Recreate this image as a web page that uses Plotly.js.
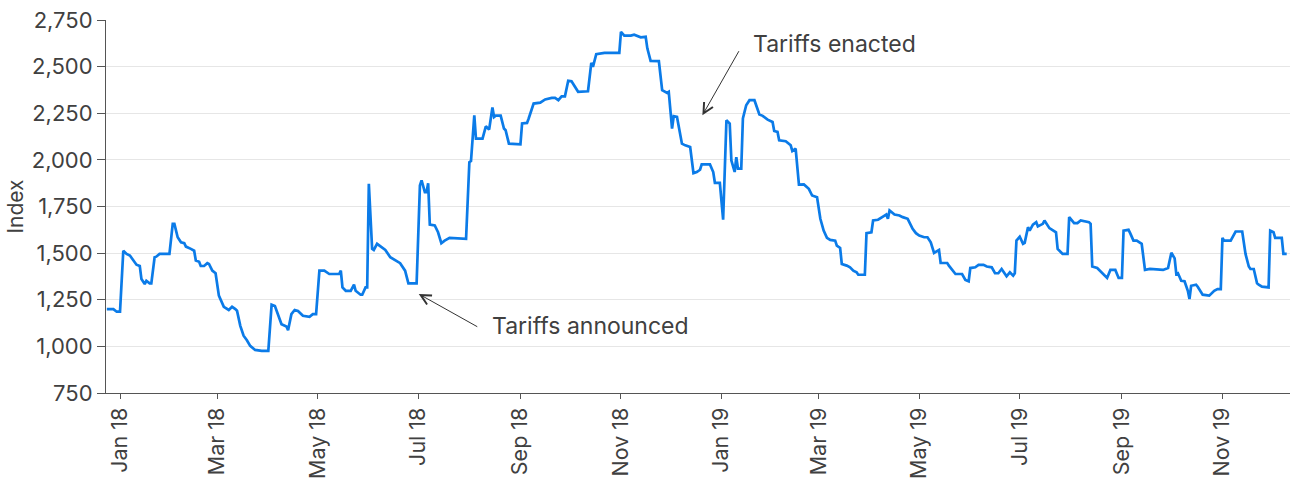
<!DOCTYPE html>
<html>
<head>
<meta charset="utf-8">
<script src="https://cdn.plot.ly/plotly-3.0.1.min.js"></script>
<style>
html,body{margin:0;padding:0;background:#fff;}
#chart{width:1294px;height:481px;}
</style>
</head>
<body>
<div id="chart"></div>
<script>
const dates = [
"2017-12-24","2017-12-28","2017-12-30","2018-01-01","2018-01-03","2018-01-05","2018-01-07","2018-01-09","2018-01-11","2018-01-13",
"2018-01-14","2018-01-16","2018-01-17","2018-01-19","2018-01-20","2018-01-22","2018-01-23","2018-01-25","2018-01-31","2018-02-02",
"2018-02-03","2018-02-05","2018-02-07","2018-02-09","2018-02-10","2018-02-13","2018-02-15","2018-02-16","2018-02-18","2018-02-19",
"2018-02-21","2018-02-23","2018-02-24","2018-02-26","2018-02-28","2018-03-02","2018-03-03","2018-03-05","2018-03-08","2018-03-10",
"2018-03-12","2018-03-13","2018-03-15","2018-03-17","2018-03-19","2018-03-21","2018-03-24","2018-03-28","2018-04-01","2018-04-03",
"2018-04-05","2018-04-07","2018-04-09","2018-04-12","2018-04-13","2018-04-15","2018-04-17","2018-04-19","2018-04-22","2018-04-26",
"2018-04-28","2018-04-30","2018-05-02","2018-05-05","2018-05-08","2018-05-14","2018-05-15","2018-05-16","2018-05-18","2018-05-21",
"2018-05-23","2018-05-24","2018-05-27","2018-05-28","2018-05-30","2018-05-31","2018-06-01","2018-06-03","2018-06-04","2018-06-06",
"2018-06-09","2018-06-11","2018-06-14","2018-06-17","2018-06-20","2018-06-23","2018-06-25","2018-06-30","2018-07-02","2018-07-03",
"2018-07-05","2018-07-06","2018-07-07","2018-07-08","2018-07-11","2018-07-13","2018-07-15","2018-07-17","2018-07-20","2018-07-30",
"2018-08-01","2018-08-02","2018-08-04","2018-08-05","2018-08-09","2018-08-11","2018-08-13","2018-08-15","2018-08-16","2018-08-17",
"2018-08-20","2018-08-22","2018-08-23","2018-08-25","2018-09-01","2018-09-02","2018-09-05","2018-09-06","2018-09-09","2018-09-13",
"2018-09-16","2018-09-20","2018-09-22","2018-09-24","2018-09-26","2018-09-28","2018-09-30","2018-10-02","2018-10-04","2018-10-06",
"2018-10-12","2018-10-14","2018-10-15","2018-10-17","2018-10-22","2018-10-31","2018-11-01","2018-11-03","2018-11-07","2018-11-09",
"2018-11-13","2018-11-16","2018-11-17","2018-11-19","2018-11-24","2018-11-25","2018-11-26","2018-11-29","2018-11-30","2018-12-02",
"2018-12-03","2018-12-05","2018-12-06","2018-12-08","2018-12-10","2018-12-13","2018-12-15","2018-12-17","2018-12-19","2018-12-20",
"2018-12-25","2018-12-27","2018-12-28","2018-12-31","2019-01-02","2019-01-03","2019-01-04","2019-01-06","2019-01-07","2019-01-09",
"2019-01-10","2019-01-11","2019-01-13","2019-01-14","2019-01-16","2019-01-18","2019-01-21","2019-01-24","2019-01-26","2019-01-29",
"2019-02-01","2019-02-02","2019-02-04","2019-02-05","2019-02-09","2019-02-12","2019-02-13","2019-02-15","2019-02-17","2019-02-20",
"2019-02-23","2019-02-25","2019-02-28","2019-03-02","2019-03-04","2019-03-06","2019-03-08","2019-03-11","2019-03-12","2019-03-14",
"2019-03-15","2019-03-18","2019-03-20","2019-03-22","2019-03-24","2019-03-25","2019-03-29","2019-03-30","2019-04-02","2019-04-03",
"2019-04-06","2019-04-09","2019-04-11","2019-04-12","2019-04-13","2019-04-16","2019-04-19","2019-04-21","2019-04-24","2019-04-27",
"2019-04-29","2019-05-01","2019-05-04","2019-05-06","2019-05-08","2019-05-10","2019-05-13","2019-05-14","2019-05-18","2019-05-19",
"2019-05-22","2019-05-23","2019-05-27","2019-05-29","2019-05-31","2019-06-01","2019-06-04","2019-06-06","2019-06-09","2019-06-11",
"2019-06-14","2019-06-16","2019-06-18","2019-06-20","2019-06-23","2019-06-25","2019-06-27","2019-06-28","2019-06-29","2019-07-01",
"2019-07-03","2019-07-04","2019-07-06","2019-07-07","2019-07-09","2019-07-11","2019-07-12","2019-07-15","2019-07-16","2019-07-18",
"2019-07-19","2019-07-23","2019-07-24","2019-07-26","2019-07-27","2019-07-30","2019-07-31","2019-08-03","2019-08-05","2019-08-07",
"2019-08-12","2019-08-13","2019-08-14","2019-08-17","2019-08-19","2019-08-21","2019-08-23","2019-08-25","2019-08-28","2019-08-30",
"2019-09-01","2019-09-02","2019-09-05","2019-09-06","2019-09-08","2019-09-10","2019-09-12","2019-09-13","2019-09-15","2019-09-18",
"2019-09-26","2019-09-29","2019-10-01","2019-10-03","2019-10-04","2019-10-05","2019-10-07","2019-10-09","2019-10-11","2019-10-12",
"2019-10-13","2019-10-16","2019-10-17","2019-10-20","2019-10-24","2019-10-27","2019-10-29","2019-10-31","2019-11-01","2019-11-02",
"2019-11-06","2019-11-07","2019-11-09","2019-11-13","2019-11-15","2019-11-17","2019-11-18","2019-11-20","2019-11-22","2019-11-23",
"2019-11-25","2019-11-29","2019-11-30","2019-12-02","2019-12-03","2019-12-07","2019-12-08","2019-12-10"
];
const indexValues = [
1200,1200,1186,1186,1513,1496,1487,1460,1438,1431,
1361,1334,1352,1338,1338,1478,1481,1496,1496,1657,
1657,1585,1558,1553,1535,1523,1513,1460,1454,1431,
1431,1446,1442,1406,1392,1272,1254,1212,1195,1212,
1200,1191,1110,1057,1033,1003,981,976,976,1223,
1216,1164,1119,1107,1087,1173,1195,1190,1164,1159,
1173,1173,1406,1406,1388,1388,1406,1316,1298,1298,
1331,1298,1277,1277,1316,1316,1872,1523,1517,1550,
1528,1517,1478,1460,1446,1406,1338,1338,1863,1890,
1827,1827,1875,1653,1648,1612,1553,1567,1582,1577,
1988,1994,2239,2114,2114,2180,2162,2281,2230,2237,
2237,2168,2159,2087,2083,2195,2198,2222,2302,2307,
2324,2332,2332,2320,2341,2341,2424,2422,2395,2365,
2368,2520,2499,2567,2574,2574,2687,2666,2666,2671,
2657,2660,2598,2531,2530,2454,2374,2359,2365,2168,
2234,2230,2177,2087,2078,2069,1929,1935,1947,1976,
1976,1935,1877,1877,1679,1944,2212,2195,1997,1935,
2015,1953,1953,2222,2293,2320,2320,2243,2236,2216,
2203,2155,2150,2105,2100,2078,2047,2060,1867,1868,
1845,1809,1800,1684,1621,1582,1571,1567,1540,1528,
1442,1433,1424,1406,1397,1384,1384,1607,1612,1675,
1679,1696,1707,1684,1729,1707,1702,1693,1684,1630,
1607,1594,1585,1585,1558,1501,1517,1447,1447,1433,
1402,1388,1388,1356,1349,1420,1424,1437,1437,1428,
1424,1392,1392,1415,1376,1397,1379,1392,1567,1588,
1550,1555,1639,1621,1653,1666,1643,1657,1675,1652,
1634,1612,1523,1505,1496,1496,1693,1661,1661,1675,
1666,1657,1428,1420,1402,1383,1367,1410,1410,1367,
1367,1621,1625,1607,1567,1567,1553,1550,1410,1415,
1410,1420,1502,1472,1388,1392,1352,1349,1298,1254,
1325,1331,1320,1277,1272,1298,1307,1307,1582,1567,
1567,1582,1616,1616,1496,1428,1415,1415,1338,1331,
1320,1316,1621,1612,1582,1582,1496,1496
];
const yTickValues = [750,1000,1250,1500,1750,2000,2250,2500,2750];
const yAxisTitle = "Index";
const noteAnnounced = "Tariffs announced";
const noteEnacted = "Tariffs enacted";

const fontFam = "Inter, 'Open Sans', sans-serif";
const txtColor = "#404040";

const trace = {
  x: dates, y: indexValues, type: "scatter", mode: "lines",
  line: {color: "#0b7be8", width: 2.7},
  hoverinfo: "skip"
};

const layout = {
  width: 1294, height: 481,
  margin: {l: 106, r: 4, t: 20, b: 88},
  paper_bgcolor: "#fff", plot_bgcolor: "#fff",
  showlegend: false,
  font: {family: fontFam, color: txtColor, size: 22},
  xaxis: {
    type: "date",
    range: ["2017-12-23 12:00", "2019-12-12"],
    tick0: "2018-01-01", dtick: "M2", tickformat: "%b %y",
    tickangle: -90,
    showgrid: false, zeroline: false,
    showline: true, linecolor: "#555", linewidth: 1,
    ticks: "outside", ticklen: 5, tickcolor: "#555",
    tickfont: {family: fontFam, size: 21.5, color: txtColor}
  },
  yaxis: {
    range: [750, 2750],
    tickvals: yTickValues, tickformat: ",d",
    showgrid: true, gridcolor: "#e6e6e6", gridwidth: 1,
    zeroline: false,
    showline: true, linecolor: "#555", linewidth: 1,
    ticks: "outside", ticklen: 8, tickcolor: "#555",
    tickfont: {family: fontFam, size: 22, color: txtColor},
    title: {text: yAxisTitle, font: {family: fontFam, size: 21, color: txtColor}, standoff: 2}
  },
  annotations: [
    {x: "2018-07-01 07:00", y: 1281, xref: "x", yref: "y", text: " ", font: {size: 1},
     showarrow: true, arrowhead: 5, arrowsize: 2, arrowwidth: 1, arrowcolor: "#333",
     ax: 59, ay: 33, borderpad: 0},
    {x: "2018-08-13 12:00", y: 1110, xref: "x", yref: "y", text: noteAnnounced,
     showarrow: false, xanchor: "left", yanchor: "middle",
     font: {family: fontFam, size: 23, color: txtColor}},
    {x: "2018-12-20 10:00", y: 2239, xref: "x", yref: "y", text: " ", font: {size: 1},
     showarrow: true, arrowhead: 5, arrowsize: 2, arrowwidth: 1, arrowcolor: "#333",
     ax: 37, ay: -65, borderpad: 0},
    {x: "2019-01-19 00:00", y: 2621, xref: "x", yref: "y", text: noteEnacted,
     showarrow: false, xanchor: "left", yanchor: "middle",
     font: {family: fontFam, size: 23, color: txtColor}}
  ]
};

Plotly.newPlot("chart", [trace], layout, {staticPlot: true, displayModeBar: false});
</script>
</body>
</html>
